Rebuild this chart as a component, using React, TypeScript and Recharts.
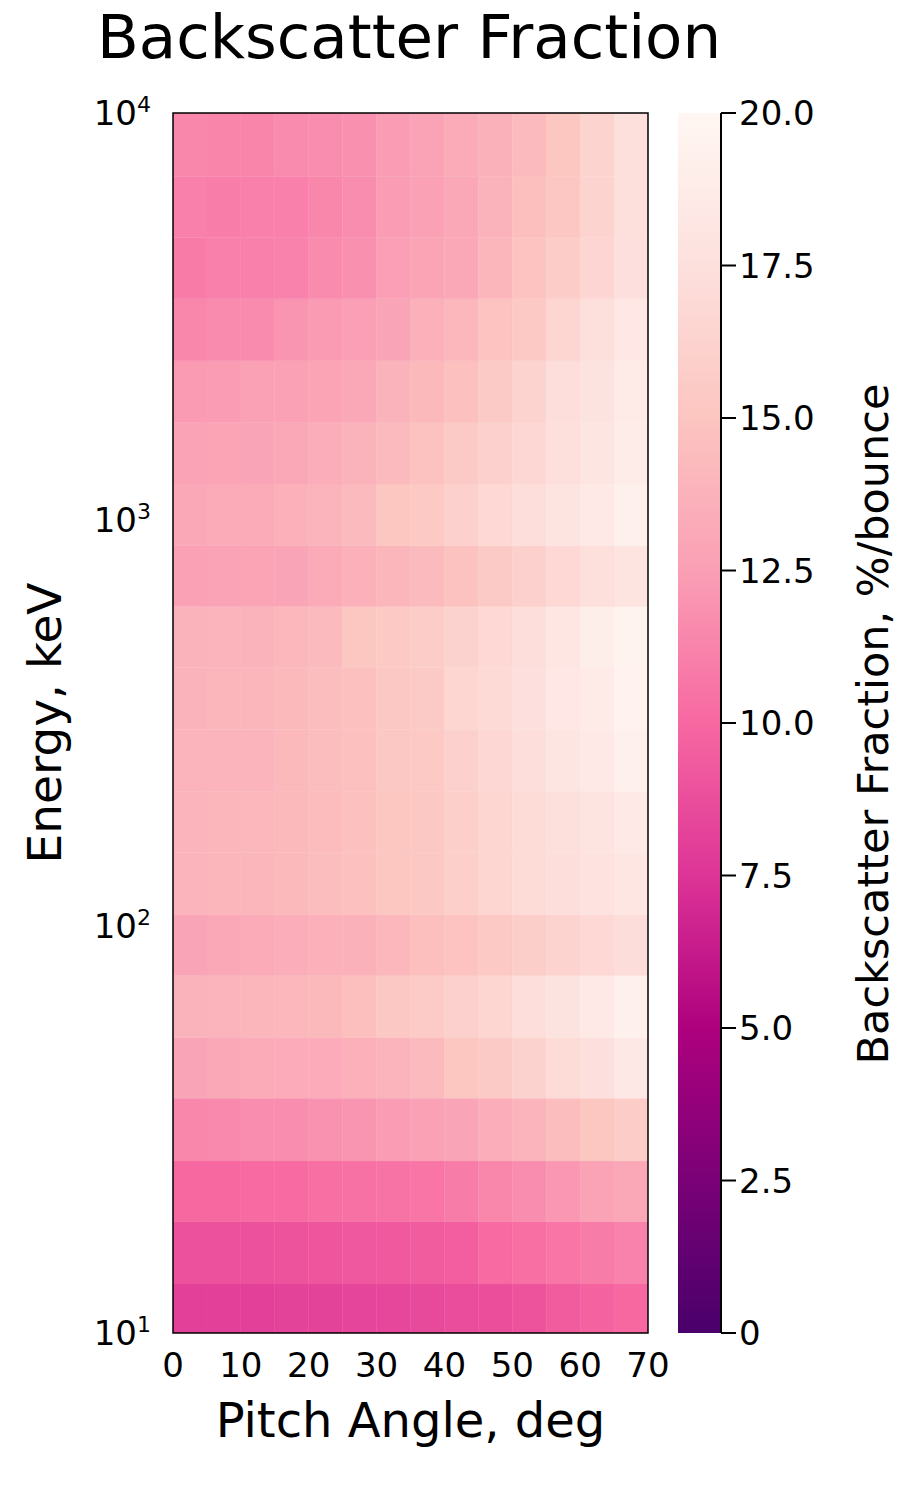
import { ComposedChart, ReferenceArea, Scatter, XAxis, YAxis } from "recharts";

// pitch angle bin edges, deg
const pitchEdges = [0, 5, 10, 15, 20, 25, 30, 35, 40, 45, 50, 55, 60, 65, 70];

// energy bin edges, keV (log spaced, lowest bin starts a bit below 10 keV)
const energyEdges = [
  9.3, 13.2, 18.8, 26.5, 37.8, 53.3, 75.7, 107, 152, 215, 305, 433, 612, 863,
  1224, 1734, 2460, 3491, 4943, 6982, 10000,
];

// backscatter fraction (%/bounce), one row per energy bin, lowest energy first
const backscatter = [
  [8.1, 8.1, 8.1, 8.2, 8.2, 8.3, 8.4, 8.5, 8.7, 8.8, 9.0, 9.4, 9.7, 10.0],
  [8.9, 8.9, 8.9, 9.0, 9.1, 9.2, 9.3, 9.4, 9.5, 10.1, 10.3, 10.6, 10.9, 11.2],
  [10.0, 10.0, 10.1, 10.1, 10.3, 10.4, 10.5, 10.6, 10.9, 11.4, 11.7, 12.2, 12.7, 13.1],
  [11.4, 11.5, 11.7, 11.7, 11.9, 12.0, 12.4, 12.6, 12.9, 13.4, 13.9, 14.5, 15.1, 15.7],
  [12.9, 13.0, 13.2, 13.3, 13.3, 13.6, 13.9, 14.3, 15.1, 15.5, 16.2, 17.0, 17.5, 18.4],
  [13.8, 13.9, 14.0, 14.1, 14.2, 14.6, 15.3, 15.6, 16.0, 16.5, 17.3, 17.8, 18.5, 19.3],
  [12.9, 13.0, 13.2, 13.4, 13.6, 13.7, 14.1, 14.6, 14.9, 15.4, 15.8, 16.3, 16.8, 17.2],
  [13.9, 14.0, 14.0, 14.2, 14.5, 14.7, 15.1, 15.3, 15.9, 16.5, 17.0, 17.3, 17.7, 18.2],
  [13.9, 14.0, 14.1, 14.2, 14.4, 14.7, 15.1, 15.3, 15.9, 16.5, 17.0, 17.4, 17.9, 18.5],
  [13.9, 13.9, 13.9, 14.2, 14.5, 14.7, 15.3, 15.4, 16.1, 16.7, 17.3, 18.0, 18.5, 19.3],
  [13.8, 14.0, 14.0, 14.2, 14.5, 14.7, 15.3, 15.5, 16.5, 16.9, 17.5, 18.3, 18.7, 19.5],
  [13.8, 13.9, 13.8, 14.1, 14.3, 15.1, 15.4, 15.7, 16.2, 16.8, 17.3, 18.2, 19.0, 19.6],
  [12.6, 12.7, 12.8, 12.9, 13.2, 13.6, 14.0, 14.3, 14.8, 15.5, 16.0, 16.8, 17.4, 17.9],
  [13.1, 13.2, 13.2, 13.6, 13.9, 14.3, 15.1, 15.4, 16.0, 16.8, 17.3, 17.9, 18.5, 19.2],
  [12.7, 12.8, 12.9, 13.1, 13.4, 13.8, 14.3, 14.8, 15.5, 16.1, 16.7, 17.4, 18.0, 18.8],
  [12.3, 12.4, 12.6, 12.6, 12.8, 13.1, 13.8, 14.2, 14.7, 15.5, 16.3, 17.3, 17.8, 18.7],
  [11.4, 11.6, 11.6, 12.0, 12.3, 12.5, 12.9, 13.6, 14.1, 14.9, 15.4, 16.5, 17.4, 18.3],
  [10.8, 11.1, 11.1, 11.2, 11.6, 11.8, 12.5, 12.8, 13.1, 14.0, 14.9, 15.7, 16.6, 17.5],
  [11.1, 11.0, 11.1, 11.1, 11.4, 11.7, 12.4, 12.6, 13.1, 13.8, 14.6, 15.2, 16.3, 17.4],
  [11.4, 11.3, 11.3, 11.6, 11.7, 11.8, 12.4, 12.7, 13.2, 13.7, 14.3, 15.1, 16.3, 17.4],
];

const pitchTicks = [0, 10, 20, 30, 40, 50, 60, 70];
const energyTicks = [10, 100, 1000, 10000];
const colorbarTicks = [0, 2.5, 5, 7.5, 10, 12.5, 15, 17.5, 20];

// RdPu, 0 -> 20 %/bounce
const rdpu = [
  "#49006a", "#7a0177", "#ae017e", "#dd3497", "#f768a1",
  "#fa9fb5", "#fcc5c0", "#fde0dd", "#fff7f3",
];
const cmin = 0;
const cmax = 20;

const FONT = "DejaVu Sans";

const hexRgb = (h: string) => [
  parseInt(h.slice(1, 3), 16),
  parseInt(h.slice(3, 5), 16),
  parseInt(h.slice(5, 7), 16),
];

const colourFor = (v: number) => {
  const t = Math.min(Math.max((v - cmin) / (cmax - cmin), 0), 1) * (rdpu.length - 1);
  const i = Math.min(Math.floor(t), rdpu.length - 2);
  const f = t - i;
  const a = hexRgb(rdpu[i]);
  const b = hexRgb(rdpu[i + 1]);
  const c = a.map((ch, k) => Math.round(ch + (b[k] - ch) * f));
  return `rgb(${c[0]},${c[1]},${c[2]})`;
};

const cells = backscatter.flatMap((row, i) =>
  row.map((value, j) => ({
    x1: pitchEdges[j],
    x2: pitchEdges[j + 1],
    y1: energyEdges[i],
    y2: energyEdges[i + 1],
    pitch: (pitchEdges[j] + pitchEdges[j + 1]) / 2,
    energy: Math.sqrt(energyEdges[i] * energyEdges[i + 1]),
    value,
  }))
);

const PitchTick = ({ x, y, payload }: any) => (
  <text x={x} y={y + 44} textAnchor="middle" fontSize={34} fontFamily={FONT} fill="#000">
    {payload.value}
  </text>
);

const EnergyTick = ({ x, y, payload }: any) => (
  <text x={x - 22} y={y + 12} textAnchor="end" fontSize={34} fontFamily={FONT} fill="#000">
    <tspan>10</tspan>
    <tspan fontSize={22} dy={-13}>
      {Math.round(Math.log10(payload.value))}
    </tspan>
  </text>
);

const ColorbarTick = ({ x, y, payload }: any) => (
  <text x={x} y={y + 12} textAnchor="start" fontSize={34} fontFamily={FONT} fill="#000">
    {payload.value === 0 ? "0" : payload.value.toFixed(1)}
  </text>
);

const App = () => {
  return (
    <div style={{ position: "absolute", left: 0, top: 0, width: 899, height: 1499, background: "#fff" }}>
      <div style={{ position: "absolute", left: 0, top: 0 }}>
        <ComposedChart width={899} height={1499} margin={{ top: 113, right: 251, bottom: 0, left: 0 }}>
          <XAxis
            type="number"
            dataKey="pitch"
            domain={[0, 70]}
            ticks={pitchTicks}
            height={166}
            tickSize={0}
            tickMargin={0}
            axisLine={false}
            tick={<PitchTick />}
            allowDataOverflow
          />
          <YAxis
            type="number"
            dataKey="energy"
            scale="log"
            domain={[10, 10000]}
            ticks={energyTicks}
            width={173}
            tickSize={0}
            tickMargin={0}
            axisLine={false}
            tick={<EnergyTick />}
            allowDataOverflow
          />
          {cells.map((c) => (
            <ReferenceArea
              key={`${c.x1}-${c.y1}`}
              x1={c.x1}
              x2={c.x2}
              y1={c.y1}
              y2={c.y2}
              fill={colourFor(c.value)}
              fillOpacity={1}
              stroke={colourFor(c.value)}
              strokeWidth={0.4}
              ifOverflow="hidden"
            />
          ))}
          <ReferenceArea x1={0} x2={70} y1={10} y2={10000} fill="none" stroke="#000" strokeWidth={1.5} />
          <Scatter data={cells} dataKey="energy" shape={() => <g />} isAnimationActive={false} />
        </ComposedChart>
      </div>

      <div style={{ position: "absolute", left: 678, top: 0 }}>
        <ComposedChart width={221} height={1499} margin={{ top: 113, right: 0, bottom: 166, left: 0 }}>
          <defs>
            <linearGradient id="rdpuBar" x1="0" y1="1" x2="0" y2="0">
              {rdpu.map((c, i) => (
                <stop key={c} offset={i / (rdpu.length - 1)} stopColor={c} />
              ))}
            </linearGradient>
          </defs>
          <XAxis type="number" dataKey="x" domain={[0, 1]} hide />
          <YAxis
            orientation="right"
            type="number"
            dataKey="y"
            domain={[cmin, cmax]}
            ticks={colorbarTicks}
            width={178}
            tickSize={15}
            tickMargin={3}
            axisLine={{ stroke: "#000", strokeWidth: 2 }}
            tickLine={{ stroke: "#000", strokeWidth: 2 }}
            tick={<ColorbarTick />}
          />
          <ReferenceArea x1={0} x2={1} y1={cmin} y2={cmax} fill="url(#rdpuBar)" fillOpacity={1} stroke="none" />
          <Scatter data={[{ x: 0.5, y: 10 }]} dataKey="y" shape={() => <g />} isAnimationActive={false} />
        </ComposedChart>
      </div>

      <svg width={899} height={1499} style={{ position: "absolute", left: 0, top: 0, pointerEvents: "none" }}>
        <text x={409} y={58} textAnchor="middle" fontSize={61} fontFamily={FONT} fill="#000">
          Backscatter Fraction
        </text>
        <text x={410.5} y={1437} textAnchor="middle" fontSize={48} fontFamily={FONT} fill="#000">
          Pitch Angle, deg
        </text>
        <text
          x={61}
          y={723}
          textAnchor="middle"
          fontSize={47}
          fontFamily={FONT}
          fill="#000"
          transform="rotate(-90, 61, 723)"
        >
          Energy, keV
        </text>
        <text
          x={888}
          y={724}
          textAnchor="middle"
          fontSize={43}
          fontFamily={FONT}
          fill="#000"
          transform="rotate(-90, 888, 724)"
        >
          Backscatter Fraction, %/bounce
        </text>
      </svg>
    </div>
  );
};

export default App;
